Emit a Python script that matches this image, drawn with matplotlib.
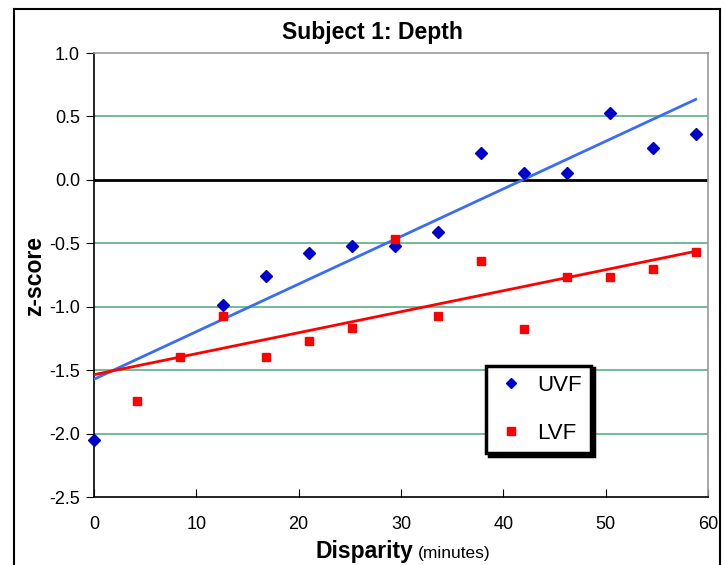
import numpy as np
import matplotlib.pyplot as plt
from matplotlib.lines import Line2D

plt.rcParams['font.family'] = ['Liberation Sans', 'DejaVu Sans']

# disparity steps (minutes) and z-scores for each visual field
uvf_x = [0, 12.6, 16.8, 21.0, 25.2, 29.4, 33.6, 37.8, 42.0, 46.2, 50.4, 54.6, 58.8]
uvf_z = [-2.05, -0.99, -0.76, -0.575, -0.52, -0.52, -0.41, 0.21, 0.055, 0.055, 0.53, 0.255, 0.36]

lvf_x = [4.2, 8.4, 12.6, 16.8, 21.0, 25.2, 29.4, 33.6, 37.8, 42.0, 46.2, 50.4, 54.6, 58.8]
lvf_z = [-1.745, -1.396, -1.076, -1.394, -1.273, -1.168, -0.465, -1.076, -0.64, -1.173,
         -0.764, -0.764, -0.70, -0.57]

yticks = [1.0, 0.5, 0.0, -0.5, -1.0, -1.5, -2.0, -2.5]
xticks = [0, 10, 20, 30, 40, 50, 60]

W, H = 726, 565
fig = plt.figure(figsize=(W / 100, H / 100), dpi=100)
ax = fig.add_axes([94 / W, 1 - 497 / H, (708 - 94) / W, (497 - 53) / H])

ax.set_xlim(0, 60)
ax.set_ylim(-2.5, 1.0)

# horizontal gridlines, zero line drawn separately in black
for y in yticks:
    if y in (1.0, -2.5, 0.0):
        continue
    ax.axhline(y, color='#5fae84', lw=1.2, zorder=1)
ax.axhline(0, color='black', lw=2, zorder=2)

# linear trendlines over 0..58.8
tx = np.array([0, 58.8])
bu = np.polyfit(uvf_x, uvf_z, 1)
bl = np.polyfit(lvf_x, lvf_z, 1)
ax.plot(tx, np.polyval(bu, tx), color='#3a6cf5', lw=2, zorder=3)
ax.plot(tx, np.polyval(bl, tx), color='#ff0000', lw=2, zorder=3)

ax.plot(uvf_x, uvf_z, 'D', color='#0000cc', ms=6, mec='#0000cc', ls='none',
        label='UVF', zorder=4, clip_on=False)
ax.plot(lvf_x, lvf_z, 's', color='#ff0000', ms=6, ls='none', label='LVF', zorder=4)

ax.set_xticks(xticks)
ax.set_yticks(yticks)
ax.set_yticklabels(['%.1f' % v for v in yticks])
ax.tick_params(axis='both', labelsize=13, color='black')
ax.tick_params(axis='y', direction='out', length=6, pad=4)
ax.tick_params(axis='x', direction='in', length=6, pad=14)

for side in ('left', 'bottom'):
    ax.spines[side].set_color('black')
    ax.spines[side].set_linewidth(1.2)
for side in ('top', 'right'):
    ax.spines[side].set_color('#999999')
    ax.spines[side].set_linewidth(1.2)

leg = ax.legend(loc='lower left', bbox_to_anchor=(0.638, 0.099), borderaxespad=0,
                fontsize=16, frameon=True, fancybox=False, labelspacing=1.2,
                handletextpad=0.5, borderpad=0.42, handlelength=1.4,
                shadow={'color': 'black', 'alpha': 1})
leg.get_frame().set_edgecolor('black')
leg.get_frame().set_linewidth(2.5)
for h in leg.legend_handles:
    h.set_markersize(5.5)

fig.text(372 / W, 1 - 32 / H, 'Subject 1: Depth', ha='center', va='center',
         fontsize=16.5, fontweight='bold')
fig.text(35 / W, 1 - 276 / H, 'z-score', ha='center', va='center', rotation=90,
         fontsize=16.5, fontweight='bold')
fig.text(413 / W, 1 - 558 / H, 'Disparity', ha='right', va='baseline',
         fontsize=16.5, fontweight='bold')
fig.text(418 / W, 1 - 558 / H, '(minutes)', ha='left', va='baseline', fontsize=12.5)

# outer chart border (bottom edge runs off the image)
border = [((14, 14), (H + 5, 9)), ((14, 720), (9, 9)), ((720, 720), (9, H + 5))]
for xs, ys in border:
    fig.add_artist(Line2D([x / W for x in xs], [1 - y / H for y in ys],
                          color='black', lw=1.5))

fig.savefig('out.png', dpi=100)
